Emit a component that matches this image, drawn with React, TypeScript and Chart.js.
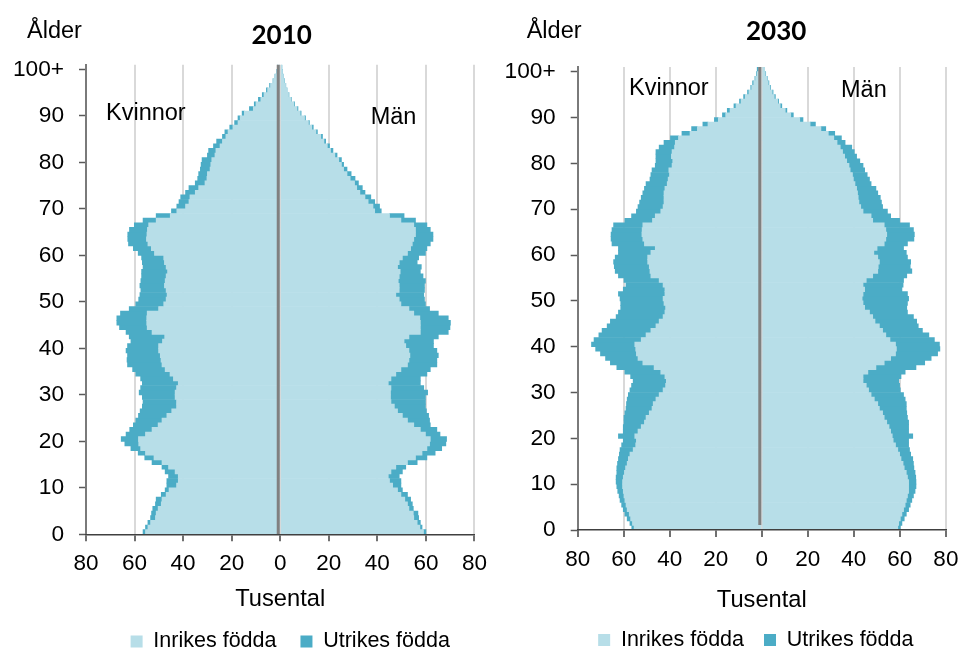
import React, { useEffect, useRef } from "react";
import { Chart, registerables } from "chart.js";

Chart.register(...registerables);

// ---------- data ----------
const ages: number[] = Array.from({ length: 101 }, (_, i) => i);
const ageTicks = [0, 10, 20, 30, 40, 50, 60, 70, 80, 90, 100];
const ageTickLabels = ["0", "10", "20", "30", "40", "50", "60", "70", "80", "90", "100+"];
const seriesLabels = ["Inrikes födda", "Utrikes födda"];
const sideLabels = ["Kvinnor", "Män"];

// 2010, thousands (total = inrikes + utrikes)
const kvinnorTotal2010 = [
  56.5, 55.5, 54.5, 53.4, 53.0, 52.5, 51.4, 51.1, 49.0, 47.4,
  46.7, 46.7, 46.0, 47.4, 48.7, 52.8, 55.8, 58.5, 61.5, 64.0,
  65.5, 63.5, 62.0, 60.5, 59.5, 58.4, 57.7, 56.8, 56.5, 56.8,
  58.1, 57.5, 56.8, 57.5, 59.5, 60.8, 62.9, 63.1, 62.9, 63.5,
  62.9, 61.5, 62.2, 63.5, 66.2, 67.3, 67.3, 65.8, 62.2, 59.5,
  58.3, 57.8, 57.4, 57.8, 57.4, 57.1, 57.1, 56.5, 56.8, 57.1,
  58.5, 60.5, 62.5, 62.8, 62.8, 62.1, 60.1, 56.5, 51.1, 44.8,
  42.6, 41.7, 41.0, 39.0, 37.6, 35.0, 34.0, 33.6, 32.9, 32.6,
  32.2, 30.0, 29.5, 27.5, 26.2, 23.8, 22.8, 20.8, 18.8, 17.4,
  15.7, 12.7, 10.7, 9.0, 7.4, 5.7, 4.4, 3.0, 2.2, 1.6, 1.2,
];
const kvinnorInrikes2010 = [
  55.5, 54.5, 53.4, 51.4, 51.1, 50.3, 49.0, 48.7, 47.0, 45.8,
  42.7, 42.0, 42.0, 43.3, 46.0, 48.7, 52.0, 55.5, 57.5, 58.3,
  58.4, 55.5, 52.8, 50.3, 48.7, 46.7, 44.7, 42.7, 42.7, 43.3,
  43.3, 42.7, 42.0, 44.0, 45.4, 47.4, 48.7, 49.1, 49.4, 50.1,
  50.1, 48.5, 47.6, 52.8, 54.8, 55.0, 55.0, 54.8, 50.1, 48.0,
  47.0, 46.6, 47.0, 47.7, 47.4, 47.0, 46.4, 47.0, 47.7, 48.0,
  51.8, 53.1, 54.5, 55.1, 54.9, 54.7, 54.2, 51.1, 45.3, 42.6,
  39.0, 37.6, 37.2, 35.0, 33.6, 31.0, 30.2, 30.0, 28.9, 28.6,
  28.2, 26.9, 26.5, 24.8, 23.8, 22.4, 21.5, 19.5, 17.4, 16.5,
  14.8, 11.1, 10.0, 8.0, 6.7, 5.2, 4.0, 2.8, 2.0, 1.5, 1.1,
];
const manTotal2010 = [
  60.0, 58.4, 57.7, 57.0, 56.7, 54.8, 54.4, 53.7, 52.4, 50.3,
  49.7, 49.7, 49.0, 50.3, 51.7, 56.4, 60.4, 63.8, 66.5, 68.2,
  68.5, 65.8, 64.5, 61.8, 61.5, 61.1, 60.2, 59.8, 59.8, 59.8,
  60.7, 59.1, 57.7, 57.7, 60.4, 61.8, 64.5, 64.5, 65.1, 64.5,
  63.1, 63.1, 65.1, 69.2, 69.9, 70.1, 69.2, 65.1, 61.5, 59.8,
  59.4, 59.1, 59.4, 59.4, 59.8, 58.8, 57.7, 58.1, 56.4, 57.0,
  59.8, 60.4, 61.8, 62.9, 62.9, 61.8, 60.4, 55.7, 51.0, 41.6,
  40.9, 38.9, 37.3, 34.9, 33.8, 32.2, 30.8, 29.2, 27.5, 26.1,
  25.2, 23.4, 21.7, 20.3, 18.7, 17.4, 15.3, 13.6, 12.0, 10.4,
  8.6, 7.3, 5.9, 4.6, 3.6, 2.8, 2.3, 1.7, 1.2, 0.8, 0.7,
];
const manInrikes2010 = [
  59.0, 57.5, 56.4, 55.0, 54.8, 53.0, 52.4, 51.3, 49.7, 48.3,
  46.3, 45.0, 44.5, 45.6, 47.6, 52.4, 55.7, 58.4, 60.4, 61.5,
  61.8, 59.8, 57.7, 55.0, 52.4, 50.3, 48.3, 47.0, 45.6, 45.4,
  45.4, 45.6, 44.5, 45.6, 47.6, 49.7, 52.4, 53.0, 53.4, 53.0,
  51.7, 51.0, 53.0, 57.7, 57.7, 57.7, 57.5, 55.0, 53.0, 49.7,
  49.0, 47.6, 49.0, 49.0, 48.6, 49.0, 49.4, 48.3, 49.0, 50.3,
  52.4, 53.7, 54.4, 55.0, 55.7, 55.7, 55.0, 49.7, 45.0, 38.9,
  38.2, 36.2, 34.9, 32.8, 31.5, 30.6, 28.8, 27.5, 26.1, 25.2,
  24.1, 22.5, 20.7, 19.4, 18.0, 16.7, 14.7, 13.0, 11.6, 10.0,
  8.2, 6.9, 5.6, 4.4, 3.4, 2.7, 2.2, 1.6, 1.1, 0.7, 0.6,
];

// 2030, thousands
const kvinnorTotal2030 = [
  56.5, 57.3, 58.5, 59.5, 60.2, 60.9, 61.6, 62.0, 62.6, 63.0,
  63.3, 63.3, 63.0, 63.0, 62.7, 62.3, 61.9, 61.6, 60.9, 60.2,
  62.3, 60.2, 60.2, 59.9, 59.9, 59.5, 59.0, 58.8, 58.5, 58.0,
  57.3, 56.6, 55.9, 57.0, 59.5, 63.0, 65.8, 67.9, 70.1, 72.2,
  74.0, 72.9, 70.8, 69.4, 67.2, 65.8, 63.3, 62.3, 61.3, 61.3,
  61.6, 62.3, 60.2, 59.0, 59.9, 62.3, 63.7, 64.1, 64.4, 63.7,
  62.3, 62.3, 65.1, 65.5, 65.5, 65.1, 64.4, 59.5, 56.6, 54.5,
  53.8, 53.1, 52.4, 51.7, 51.0, 50.3, 48.6, 48.2, 47.7, 46.3,
  46.0, 46.0, 46.0, 44.6, 42.5, 39.7, 34.7, 30.5, 25.6, 20.6,
  17.1, 15.0, 12.1, 9.7, 7.9, 6.2, 4.8, 4.0, 3.0, 2.3, 2.0,
];
const kvinnorInrikes2030 = [
  55.5, 56.2, 57.0, 57.6, 58.5, 59.0, 59.5, 59.9, 60.2, 60.5,
  60.5, 60.2, 59.7, 59.2, 58.5, 58.0, 57.3, 55.9, 54.8, 54.5,
  55.2, 53.8, 52.4, 51.0, 50.3, 48.9, 47.7, 47.2, 46.0, 44.6,
  42.9, 41.8, 41.5, 42.1, 43.9, 46.8, 51.7, 53.8, 54.5, 54.8,
  55.2, 52.4, 50.3, 48.2, 46.0, 44.6, 42.9, 42.1, 41.8, 42.5,
  42.9, 42.1, 42.1, 42.9, 44.6, 48.2, 48.6, 48.9, 49.6, 49.6,
  48.2, 46.3, 51.0, 51.7, 52.1, 52.0, 51.7, 47.5, 46.3, 43.9,
  42.9, 42.5, 42.5, 42.5, 42.1, 41.1, 40.7, 40.1, 40.4, 39.0,
  38.7, 39.3, 39.0, 37.9, 37.6, 36.2, 31.2, 28.0, 23.4, 18.9,
  15.7, 13.8, 11.2, 9.0, 7.2, 5.6, 4.4, 3.5, 2.7, 2.0, 1.3,
];
const manTotal2030 = [
  60.2, 60.9, 61.9, 62.8, 63.8, 64.5, 65.2, 65.9, 66.6, 67.0,
  67.0, 66.9, 66.6, 66.1, 65.9, 65.6, 64.7, 64.2, 63.8, 63.8,
  65.6, 63.8, 63.8, 63.8, 63.3, 63.0, 62.8, 62.8, 62.3, 61.6,
  60.2, 59.9, 59.5, 60.5, 62.3, 67.0, 70.8, 73.6, 76.4, 77.4,
  77.2, 75.0, 72.6, 69.8, 68.0, 67.3, 65.9, 63.3, 63.0, 63.3,
  63.8, 63.3, 60.9, 61.4, 61.6, 63.0, 65.2, 64.5, 64.7, 63.3,
  62.8, 61.6, 63.3, 66.1, 66.3, 65.9, 64.2, 59.9, 56.0, 54.6,
  52.5, 52.0, 51.5, 50.4, 49.6, 47.5, 46.8, 45.8, 44.7, 44.0,
  42.6, 41.2, 40.2, 39.1, 36.2, 34.6, 31.7, 27.8, 23.3, 17.9,
  13.7, 10.9, 8.7, 7.3, 5.9, 4.9, 3.8, 3.1, 2.4, 1.7, 1.0,
];
const manInrikes2030 = [
  59.1, 59.5, 60.2, 60.9, 61.6, 62.3, 62.8, 63.3, 63.8, 63.8,
  63.8, 63.3, 62.8, 61.9, 61.4, 60.5, 59.9, 59.1, 58.1, 57.1,
  56.7, 56.0, 55.3, 54.3, 53.2, 52.5, 51.1, 50.4, 48.9, 47.5,
  46.4, 45.4, 44.0, 44.0, 46.1, 49.6, 53.2, 56.0, 58.1, 58.5,
  58.1, 55.7, 53.9, 52.5, 51.1, 49.2, 48.2, 46.8, 44.7, 44.0,
  43.6, 44.0, 44.7, 44.0, 45.4, 48.2, 50.4, 50.6, 51.1, 50.4,
  48.7, 50.1, 53.2, 53.9, 54.3, 53.9, 53.2, 48.2, 47.5, 44.0,
  43.0, 42.2, 41.9, 41.6, 41.2, 40.5, 39.8, 39.4, 38.4, 37.9,
  36.9, 36.0, 35.1, 34.1, 32.7, 31.3, 28.9, 25.7, 21.0, 16.5,
  12.6, 10.2, 8.0, 6.9, 5.4, 4.5, 3.5, 2.8, 2.2, 1.5, 0.8,
];

// ---------- styles ----------
const LIGHT = "#B7DEE8";
const DARK = "#4BACC6";
const FONT = "'Liberation Sans', Arial, sans-serif";
const CANVAS_H = 651;

type TextItem = { text: string; x: number; y: number; font: string; align: CanvasTextAlign };
type Lay = {
  left: number; width: number; top: number; right: number; bottom: number;
  yAxisWidth: number; xAxisHeight: number; xTickPad: number; titlePadBottom: number;
  zeroShift: number; zeroGap: number; legendShift: number; legendPad: number; texts: TextItem[];
};

function Pyramid(props: {
  wTot: number[]; wInr: number[]; mTot: number[]; mInr: number[]; lay: Lay;
}) {
  const ref = useRef<HTMLCanvasElement | null>(null);
  const { wTot, wInr, mTot, mInr, lay } = props;

  useEffect(() => {
    if (!ref.current) return;
    const overlay = {
      id: "pyramidOverlay",
      afterLayout(chart: any) {
        const lg = chart.legend;
        if (lg) {
          lg.left += lay.legendShift;
          lg.right += lay.legendShift;
        }
      },
      afterDatasetsDraw(chart: any) {
        const { ctx, chartArea, scales } = chart;
        const x0 = scales.x.getPixelForValue(0) + lay.zeroShift;
        ctx.save();
        ctx.strokeStyle = "#808080";
        ctx.lineWidth = 3;
        ctx.beginPath();
        ctx.moveTo(x0, chartArea.top);
        ctx.lineTo(x0, chartArea.bottom - lay.zeroGap);
        ctx.stroke();
        ctx.restore();
      },
      afterDraw(chart: any) {
        const { ctx } = chart;
        ctx.save();
        ctx.fillStyle = "#000";
        ctx.textBaseline = "alphabetic";
        for (const t of lay.texts) {
          ctx.font = t.font;
          ctx.textAlign = t.align;
          ctx.fillText(t.text, t.x, t.y);
        }
        ctx.restore();
      },
    };

    const common = {
      grouped: false,
      barPercentage: 1,
      categoryPercentage: 1,
      borderWidth: 0,
    };

    const chart = new Chart(ref.current, {
      type: "bar",
      data: {
        datasets: [
          { ...common, label: seriesLabels[0], backgroundColor: LIGHT,
            data: ages.map((a, i) => ({ y: a + 0.5, x: -wInr[i] })) },
          { ...common, label: seriesLabels[0], backgroundColor: LIGHT,
            data: ages.map((a, i) => ({ y: a + 0.5, x: mInr[i] })) },
          { ...common, label: seriesLabels[1], backgroundColor: DARK,
            data: ages.map((a, i) => ({ y: a + 0.5, x: [-wInr[i], -wTot[i]] })) },
          { ...common, label: seriesLabels[1], backgroundColor: DARK,
            data: ages.map((a, i) => ({ y: a + 0.5, x: [mInr[i], mTot[i]] })) },
        ] as any,
      },
      options: {
        indexAxis: "y",
        responsive: false,
        animation: false,
        events: [],
        layout: { padding: { left: 0, top: lay.top, right: lay.right, bottom: lay.bottom } },
        scales: {
          x: {
            type: "linear",
            min: -80,
            max: 80,
            ticks: {
              stepSize: 20,
              autoSkip: false,
              maxRotation: 0,
              padding: lay.xTickPad,
              color: "#000",
              font: { family: FONT, size: 22.5 },
              callback: (v: any) => String(Math.abs(Number(v))),
            },
            grid: {
              color: "#D9D9D9",
              lineWidth: 2,
              drawTicks: true,
              tickLength: 7,
              tickColor: "#404040",
              tickWidth: 1.5,
            },
            border: { display: true, color: "#404040", width: 1.5, z: 1 },
            title: {
              display: true,
              text: "Tusental",
              color: "#000",
              font: { family: FONT, size: 23.7 },
              padding: { top: 0, bottom: lay.titlePadBottom },
            },
            afterFit: (s: any) => { s.height = lay.xAxisHeight; },
          },
          y: {
            type: "linear",
            min: 0,
            max: 101,
            offset: false,
            afterBuildTicks: (s: any) => { s.ticks = ageTicks.map((v) => ({ value: v })); },
            ticks: {
              autoSkip: false,
              padding: 15,
              color: "#000",
              font: { family: FONT, size: 22.7 },
              callback: (_v: any, i: number) => ageTickLabels[i],
            },
            grid: {
              drawOnChartArea: false,
              drawTicks: true,
              tickLength: 7,
              tickColor: "#595959",
              tickWidth: 1.5,
              offset: false,
            },
            border: { display: true, color: "#7a7a7a", width: 2 },
            afterFit: (s: any) => { s.width = lay.yAxisWidth; },
          },
        },
        plugins: {
          title: { display: false },
          tooltip: { enabled: false },
          legend: {
            display: true,
            position: "bottom",
            fullSize: false,
            labels: {
              boxWidth: 12,
              boxHeight: 12,
              padding: lay.legendPad,
              color: "#000",
              font: { family: FONT, size: 21.5 },
              filter: (item: any) => item.datasetIndex === 0 || item.datasetIndex === 2,
            },
          },
        },
      } as any,
      plugins: [overlay],
    });
    return () => chart.destroy();
  }, []);

  return (
    <canvas
      ref={ref}
      width={lay.width}
      height={CANVAS_H}
      style={{ position: "absolute", left: lay.left, top: 0, width: lay.width, height: CANVAS_H }}
    />
  );
}

const TITLE_FONT = "bold 26px Lato, 'Open Sans', sans-serif";
const TEXT_FONT = "23.5px 'Liberation Sans', Arial, sans-serif";

const lay2010: Lay = {
  left: 0, width: 496, top: 64.7, right: 14, bottom: -11.25,
  yAxisWidth: 86, xAxisHeight: 72.45, xTickPad: 9, titlePadBottom: -6.95,
  zeroShift: -2, zeroGap: 0, legendShift: 10, legendPad: 24,
  texts: [
    { text: "2010", x: 281.7, y: 44.3, font: TITLE_FONT, align: "center" },
    { text: "Ålder", x: 27, y: 38.3, font: TEXT_FONT, align: "left" },
    { text: sideLabels[0], x: 106, y: 120, font: TEXT_FONT, align: "left" },
    { text: sideLabels[1], x: 370.7, y: 124.3, font: TEXT_FONT, align: "left" },
  ],
};

const lay2030: Lay = {
  left: 496, width: 472, top: 67.1, right: 12.7, bottom: -9.75,
  yAxisWidth: 81.7, xAxisHeight: 79.25, xTickPad: 9.6, titlePadBottom: -5.65,
  zeroShift: -2, zeroGap: 5, legendShift: -6, legendPad: 20,
  texts: [
    { text: "2030", x: 280.2, y: 40, font: TITLE_FONT, align: "center" },
    { text: "Ålder", x: 30.7, y: 38.3, font: TEXT_FONT, align: "left" },
    { text: sideLabels[0], x: 133, y: 95, font: TEXT_FONT, align: "left" },
    { text: sideLabels[1], x: 345, y: 97.3, font: TEXT_FONT, align: "left" },
  ],
};

export default function App() {
  return (
    <div style={{ position: "absolute", left: 0, top: 0, width: 968, height: CANVAS_H, background: "#fff", overflow: "hidden" }}>
      <Pyramid wTot={kvinnorTotal2010} wInr={kvinnorInrikes2010} mTot={manTotal2010} mInr={manInrikes2010} lay={lay2010} />
      <Pyramid wTot={kvinnorTotal2030} wInr={kvinnorInrikes2030} mTot={manTotal2030} mInr={manInrikes2030} lay={lay2030} />
    </div>
  );
}
